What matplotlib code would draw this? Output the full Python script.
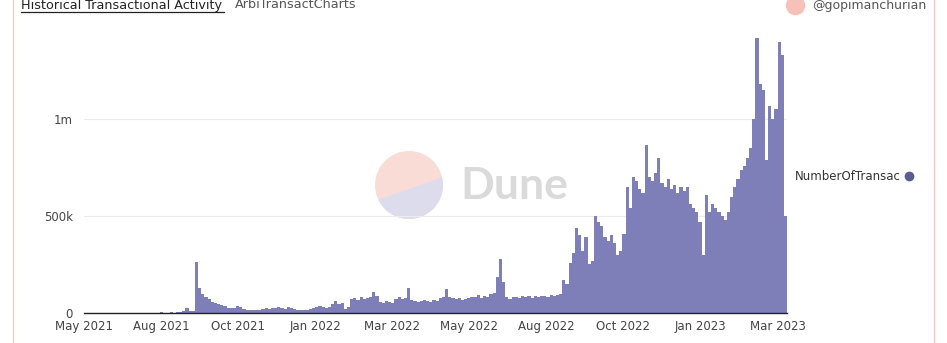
import datetime as dt
import matplotlib
matplotlib.use('Agg')
import matplotlib.pyplot as plt
from matplotlib.patches import Circle, Polygon
from matplotlib.lines import Line2D

# daily transaction counts, sampled every 3 days (thousands)
start = dt.date(2021, 5, 17)
step_days = 3
pre_launch = [1, 1, 2, 1, 1, 2, 1, 2, 1, 1, 2, 2, 1, 1, 2, 1, 2, 2, 1, 1,
              2, 1, 2, 2, 3, 2, 2, 3, 2, 3, 3]
tx_k = [8, 25, 10, 12, 263, 130,
        100, 80, 70,
        55, 50, 45, 40, 38,
        28, 25, 24, 38, 30, 22,
        15, 16, 18, 15, 17, 20,
        25, 22, 28, 24, 30, 26, 22, 30, 24, 20,
        16, 14, 18, 15, 20,
        28, 30, 35, 32, 28, 30,
        45, 60, 48, 50,
        22, 30,
        70, 75, 65, 80, 72, 78,
        85, 110, 90,
        55, 50, 60, 58, 52,
        70, 80, 72, 78, 130,
        65, 60, 58,
        62, 68, 60, 55, 66, 64,
        78, 85, 125, 82, 76,
        70, 75, 68, 72, 78,
        80, 85, 95, 78, 90, 82,
        100, 105,
        185, 280, 160,
        85, 70,
        80, 85, 75, 88, 82, 90, 78, 86, 84, 90,
        90, 85, 92, 88, 95, 100,
        170, 150,
        260, 310,
        440, 400,
        320, 390,
        255, 270,
        500, 470, 450,
        390, 370,
        400, 360,
        300, 320,
        410,
        650, 540,
        700, 680,
        640, 620, 865,
        700, 680,
        720, 800,
        670, 650, 690,
        640, 660, 620, 650, 630,
        650, 560, 540,
        520, 470, 300,
        610, 520,
        560, 540, 520,
        500, 480, 520,
        600, 650, 690,
        740, 760,
        800, 850,
        1000, 1420, 1180, 1150, 790, 1070, 1000, 1050, 1400, 1330, 500]

tick_labels = ['May 2021', 'Aug 2021', 'Oct 2021', 'Jan 2022', 'Mar 2022',
               'May 2022', 'Aug 2022', 'Oct 2022', 'Jan 2023', 'Mar 2023']
tick_step_days = 73
y_ticks = [0, 500000, 1000000]
y_labels = ['0', '500k', '1m']

values = [v * 1000 for v in pre_launch + tx_k]
dates = [start + dt.timedelta(days=step_days * i) for i in range(len(values))]
end = dates[-1] + dt.timedelta(days=step_days)

plt.rcParams['font.family'] = ['DejaVu Sans']
fig = plt.figure(figsize=(9.47, 3.43), dpi=100)
fig.patch.set_facecolor('white')

# watermark (behind the chart)
wm = fig.add_axes([359 / 947, 1 - 235 / 343, 100 / 947, 100 / 343])
wm.set_xlim(-1, 1)
wm.set_ylim(-1, 1)
wm.set_aspect('equal')
wm.axis('off')
circ = Circle((0, 0), 0.68, facecolor='#f9dcd5', edgecolor='none')
wm.add_patch(circ)
low = Polygon([(-1, -0.43), (1, 0.27), (1, -1), (-1, -1)], closed=True,
              facecolor='#dddcec', edgecolor='none')
wm.add_patch(low)
low.set_clip_path(circ)
fig.text(460 / 947, 1 - 186 / 343, 'Dune', fontsize=32, fontweight='bold',
         color='#dadada', va='center', ha='left', family='Lato')

ax = fig.add_axes([84 / 947, 30 / 343, 703 / 947, 283 / 343])
ax.patch.set_alpha(0)
ax.bar(dates, values, width=step_days * 1.05, align='edge', color='#7e7eb8',
       linewidth=0, zorder=2)

ax.set_xlim(start, end)
ax.set_ylim(0, 1460000)
ax.set_yticks(y_ticks)
ax.set_yticklabels(y_labels)
ax.set_xticks([start + dt.timedelta(days=tick_step_days * k) for k in range(len(tick_labels))])
ax.set_xticklabels(tick_labels)
ax.tick_params(axis='both', length=0, labelsize=8.5, colors='#444444')
ax.tick_params(axis='y', pad=8)
ax.tick_params(axis='x', pad=5)
ax.grid(axis='y', color='#ececec', linewidth=0.8, zorder=0)
for s in ['top', 'right', 'left']:
    ax.spines[s].set_visible(False)
ax.spines['bottom'].set_color('#222222')
ax.spines['bottom'].set_linewidth(1.0)

# header
fig.text(21 / 947, 1 - 5 / 343, 'Historical Transactional Activity', fontsize=9.2,
         color='#222222', va='center', ha='left')
fig.add_artist(Line2D([21 / 947, 224 / 947], [1 - 12 / 343, 1 - 12 / 343],
                      color='#222222', linewidth=0.9))
fig.text(235 / 947, 1 - 5 / 343, 'ArbiTransactCharts', fontsize=9.2,
         color='#555555', va='center', ha='left')
fig.text(812 / 947, 1 - 5 / 343, '@gopimanchurian', fontsize=9.0,
         color='#555555', va='center', ha='left')
fig.add_artist(Line2D([795 / 947], [1 - 5 / 343], marker='o', markersize=13,
                      color='#f7c0b8', linestyle='none'))

# legend
fig.text(795 / 947, 1 - 176 / 343, 'NumberOfTransac', fontsize=8.5,
         color='#333333', va='center', ha='left')
fig.add_artist(Line2D([909 / 947], [1 - 176 / 343], marker='o', markersize=6,
                      color='#5b5b93', linestyle='none'))

# card borders
fig.add_artist(Line2D([13 / 947, 13 / 947], [0, 1], color='#e3d3cb', linewidth=1))
fig.add_artist(Line2D([934 / 947, 934 / 947], [0, 1], color='#f2cccc', linewidth=1))

fig.savefig('out.png', dpi=100)
